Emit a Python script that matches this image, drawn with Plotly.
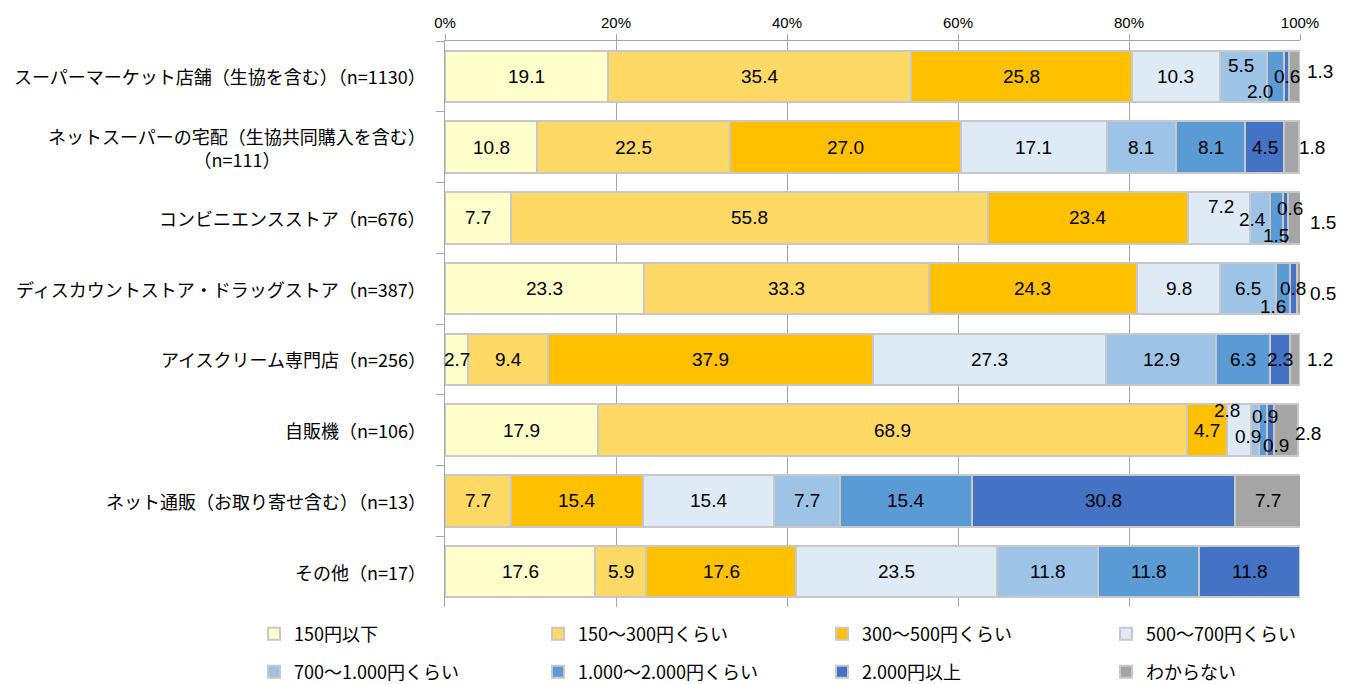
import plotly.graph_objects as go

categories = [
    "スーパーマーケット店舗（生協を含む）（n=1130）",
    "ネットスーパーの宅配（生協共同購入を含む）<br>（n=111）",
    "コンビニエンスストア（n=676）",
    "ディスカウントストア・ドラッグストア（n=387）",
    "アイスクリーム専門店（n=256）",
    "自販機（n=106）",
    "ネット通販（お取り寄せ含む）（n=13）",
    "その他（n=17）",
]

series_names = [
    "150円以下",
    "150～300円くらい",
    "300～500円くらい",
    "500～700円くらい",
    "700～1.000円くらい",
    "1.000～2.000円くらい",
    "2.000円以上",
    "わからない",
]

v_150_under = [19.1, 10.8, 7.7, 23.3, 2.7, 17.9, 0.0, 17.6]
v_150_300 = [35.4, 22.5, 55.8, 33.3, 9.4, 68.9, 7.7, 5.9]
v_300_500 = [25.8, 27.0, 23.4, 24.3, 37.9, 4.7, 15.4, 17.6]
v_500_700 = [10.3, 17.1, 7.2, 9.8, 27.3, 2.8, 15.4, 23.5]
v_700_1000 = [5.5, 8.1, 2.4, 6.5, 12.9, 0.9, 7.7, 11.8]
v_1000_2000 = [2.0, 8.1, 1.5, 1.6, 6.3, 0.9, 15.4, 11.8]
v_2000_over = [0.6, 4.5, 0.6, 0.8, 2.3, 0.9, 30.8, 11.8]
v_unknown = [1.3, 1.8, 1.5, 0.5, 1.2, 2.8, 7.7, 0.0]

series_values = [v_150_under, v_150_300, v_300_500, v_500_700,
                 v_700_1000, v_1000_2000, v_2000_over, v_unknown]

tick_vals = [0, 20, 40, 60, 80, 100]
tick_text = ["0%", "20%", "40%", "60%", "80%", "100%"]

# styling
colors = ["#FFFFCC", "#FFD966", "#FFC000", "#DEEBF7",
          "#9DC3E6", "#5B9BD5", "#4472C4", "#A5A5A5"]
legend_ids = ["legend"] * 4 + ["legend2"] * 4

# label nudges (row, series) -> (xshift, yshift) in px, mimicking hand-placed labels
label_offsets = {
    (0, 4): (-2, 11), (0, 5): (-15, -15), (0, 6): (1, 0), (0, 7): (26, 5),
    (1, 7): (21, 0),
    (2, 3): (2, 11), (2, 4): (-7, -2), (2, 5): (0, -18), (2, 6): (5, 9), (2, 7): (29, -5),
    (3, 5): (-10, -18), (3, 7): (24, -5),
    (4, 7): (25, 0),
    (5, 3): (-12, 20), (5, 4): (-7, -6), (5, 5): (2, 14), (5, 6): (5, -15), (5, 7): (22, -3),
}

fig = go.Figure()
for name, vals, col, lg in zip(series_names, series_values, colors, legend_ids):
    fig.add_trace(go.Bar(
        name=name, y=categories, x=vals, orientation="h",
        marker=dict(color=col, line=dict(color="#C8C8C8", width=2)),
        hoverinfo="x+name", legend=lg,
    ))

annotations = []
for i, cat in enumerate(categories):
    start = 0.0
    for j, vals in enumerate(series_values):
        v = vals[i]
        if v > 0:
            dx, dy = label_offsets.get((i, j), (0, 0))
            annotations.append(dict(
                x=start + v / 2, y=cat, xref="x", yref="y",
                text=f"{v:.1f}", showarrow=False,
                xshift=dx, yshift=dy,
                font=dict(family="Liberation Sans, Arial", size=19, color="#000000"),
            ))
        start += v
    annotations.append(dict(
        x=0, y=cat, xref="paper", yref="y", xanchor="right", yanchor="middle",
        xshift=-17, text=cat, showarrow=False, align="center",
        font=dict(family="Noto Sans CJK JP", size=18, color="#000000"),
    ))

legend_common = dict(
    orientation="h", xref="paper", yref="paper",
    x=-0.2234, xanchor="left", yanchor="middle",
    entrywidth=239, entrywidthmode="pixels", traceorder="normal",
    font=dict(family="Noto Sans CJK JP", size=18, color="#000000"),
    itemwidth=30, bgcolor="rgba(0,0,0,0)",
)

fig.update_layout(
    barmode="stack",
    bargap=0.27,
    width=1346, height=676,
    margin=dict(l=437, r=54, t=33, b=77, autoexpand=False),
    plot_bgcolor="white", paper_bgcolor="white",
    font=dict(family="Noto Sans CJK JP", color="#000000"),
    xaxis=dict(
        side="top", range=[0, 100], tickvals=tick_vals, ticktext=tick_text,
        showgrid=True, gridcolor="#A6A6A6", gridwidth=1,
        showline=True, linecolor="#A6A6A6", linewidth=1,
        ticks="outside", ticklen=6, tickcolor="#A6A6A6",
        tickfont=dict(family="Liberation Sans, Arial", size=15),
        zeroline=False, fixedrange=True,
    ),
    yaxis=dict(
        categoryorder="array", categoryarray=categories, autorange="reversed",
        showticklabels=False, showline=True, linecolor="#A6A6A6", linewidth=1,
        ticks="outside", ticklen=8, tickcolor="#A6A6A6", tickson="boundaries",
        showgrid=False, fixedrange=True,
    ),
    legend=dict(legend_common, y=-0.0477),
    legend2=dict(legend_common, y=-0.1148),
    annotations=annotations,
    showlegend=True,
)

fig.write_html("out.html")
